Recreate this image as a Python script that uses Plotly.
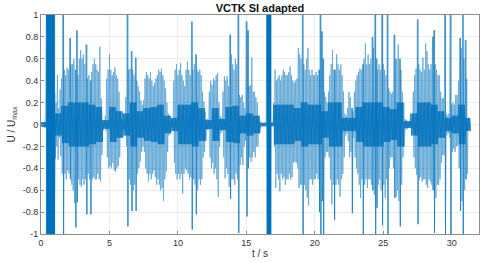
import plotly.graph_objects as go

# Envelope of the waveform.
# One value per 0.1 s bin (bin k covers k*0.1 .. k*0.1+0.1 s), 0 .. 31.4 s
BIN_S = 0.1
peak_max = [
    0.02, 0.02, 0.02, 0.03, 1, 1, 1, 1, 1, 1,                     # 0 s
    0.29, 0.2, 0.45, 0.15, 0.32, 0.42, 1, 0.5, 0.45, 0.52,        # 1 s
    0.5, 0.79, 0.55, 0.55, 0.6, 0.5, 0.86, 0.45, 0.6, 0.68,       # 2 s
    0.6, 0.64, 0.55, 0.73, 0.42, 0.45, 0.4, 0.48, 0.55, 0.6,      # 3 s
    0.55, 0.5, 0.48, 0.71, 0.24, 0.04, 0.03, 0.08, 0.42, 0.5,     # 4 s
    0.64, 0.5, 0.45, 0.48, 0.52, 0.45, 0.42, 0.3, 0.12, 0.05,     # 5 s
    0.04, 0.05, 0.25, 1.0, 0.5, 0.51, 0.67, 0.5, 0.45, 0.61,      # 6 s
    0.4, 0.35, 0.3, 0.22, 0.18, 0.22, 0.42, 0.48, 0.45, 0.42,     # 7 s
    0.48, 0.4, 0.35, 0.38, 0.42, 0.45, 0.5, 0.48, 0.51, 0.45,     # 8 s
    0.4, 0.33, 0.2, 0.1, 0.08, 0.03, 0.03, 0.4, 0.5, 0.55,        # 9 s
    0.45, 0.5, 0.56, 0.45, 0.4, 0.35, 0.5, 0.58, 0.5, 0.45,       # 10 s
    0.94, 0.5, 0.55, 0.64, 0.5, 0.48, 0.5, 0.45, 0.3, 0.21,       # 11 s
    0.12, 0.05, 0.05, 0.3, 0.4, 0.36, 0.42, 0.4, 0.45, 0.47,      # 12 s
    0.2, 0.08, 0.06, 0.3, 0.44, 0.4, 0.44, 0.35, 0.82, 0.64,      # 13 s
    0.55, 0.5, 0.6, 0.55, 1.0, 0.27, 0.25, 0.27, 0.2, 0.15,       # 14 s
    0.94, 0.86, 0.35, 0.36, 0.61, 0.3, 0.3, 0.25, 0.2, 0.08,      # 15 s
    0.03, 0.02, 0.02, 0.02, 0.02, 1, 1, 1, 0.02, 0.02,            # 16 s
    0.2, 0.5, 0.4, 0.42, 0.45, 0.4, 0.45, 0.5, 0.48, 0.45,        # 17 s
    0.45, 0.48, 0.53, 0.45, 0.4, 0.38, 0.4, 0.42, 0.7, 0.64,      # 18 s
    0.6, 1.0, 0.55, 0.5, 0.6, 0.7, 0.5, 0.45, 0.5, 0.45,          # 19 s
    0.45, 0.48, 0.45, 0.5, 1.0, 0.85, 0.6, 0.3, 0.25, 0.2,        # 20 s
    0.3, 0.45, 0.55, 0.68, 0.5, 0.5, 0.64, 0.55, 0.5, 0.55,       # 21 s
    0.45, 0.3, 0.1, 0.08, 0.15, 0.3, 0.25, 0.15, 0.12, 0.3,       # 22 s
    0.4, 0.45, 0.48, 0.51, 0.5, 0.55, 0.6, 0.74, 0.55, 0.64,      # 23 s
    0.55, 0.6, 0.8, 0.7, 1.0, 0.6, 0.5, 0.55, 0.5, 1.0,           # 24 s
    0.55, 0.5, 0.45, 1.0, 0.33, 0.3, 0.28, 0.3, 0.82, 0.6,        # 25 s
    0.6, 0.73, 0.6, 0.5, 0.3, 0.2, 0.05, 0.04, 0.03, 0.03,        # 26 s
    0.03, 0.03, 0.3, 0.45, 0.51, 0.96, 0.55, 0.5, 0.48, 0.61,     # 27 s
    0.5, 0.74, 0.67, 0.55, 0.5, 0.55, 0.8, 0.86, 0.55, 0.5,       # 28 s
    0.45, 0.45, 0.3, 0.24, 0.24, 1.0, 0.1, 0.08, 0.1, 1.0,        # 29 s
    0.18, 0.2, 0.18, 0.27, 0.27, 0.4, 0.79, 0.7, 1.0, 0.6,        # 30 s
    0.77, 0.42, 0.05, 0.03,                                       # 31 s
]
peak_min = [
    -0.02, -0.02, -0.03, -0.03, -1, -1, -1, -1, -1, -1,
    -0.31, -0.2, -0.32, -0.12, -0.29, -0.45, -1, -0.45, -0.5, -0.42,
    -0.45, -0.5, -0.55, -0.6, -0.72, -0.94, -0.71, -0.5, -0.55, -0.57,
    -0.5, -0.55, -0.5, -0.82, -0.45, -0.5, -0.82, -0.5, -0.48, -0.5,
    -0.5, -0.45, -0.5, -0.52, -0.28, -0.05, -0.03, -0.06, -0.3, -0.4,
    -0.38, -0.4, -0.35, -0.42, -0.43, -0.4, -0.38, -0.3, -0.12, -0.05,
    -0.04, -0.05, -0.2, -0.93, -0.5, -0.55, -0.79, -0.6, -0.55, -0.79,
    -0.45, -0.4, -0.34, -0.25, -0.2, -0.25, -0.4, -0.45, -0.52, -0.45,
    -0.5, -0.45, -0.42, -0.48, -0.55, -0.5, -0.55, -0.6, -0.58, -0.7,
    -0.5, -0.43, -0.25, -0.1, -0.08, -0.03, -0.03, -0.35, -0.45, -0.5,
    -0.45, -0.5, -0.45, -0.63, -0.45, -0.4, -0.42, -0.45, -0.5, -0.48,
    -0.96, -0.5, -0.55, -0.82, -0.6, -0.5, -0.55, -0.5, -0.3, -0.25,
    -0.15, -0.05, -0.05, -0.3, -0.4, -0.35, -0.45, -0.4, -0.5, -0.66,
    -0.2, -0.08, -0.06, -0.3, -0.49, -0.4, -0.45, -0.57, -0.68, -0.5,
    -0.5, -0.55, -0.45, -0.5, -0.99, -0.37, -0.3, -0.37, -0.2, -0.15,
    -0.84, -0.4, -0.3, -0.34, -0.3, -0.25, -0.3, -0.2, -0.2, -0.08,
    -0.03, -0.02, -0.02, -0.02, -0.02, -1, -1, -1, -0.02, -0.02,
    -0.2, -0.58, -0.45, -0.5, -0.61, -0.45, -0.5, -0.48, -0.55, -0.5,
    -0.5, -0.45, -0.5, -0.48, -0.35, -0.34, -0.35, -0.4, -0.58, -0.55,
    -0.55, -1.0, -0.55, -0.6, -0.67, -0.74, -0.5, -0.5, -0.55, -0.5,
    -0.5, -0.45, -0.5, -0.8, -1.0, -0.7, -1.0, -0.3, -0.25, -0.25,
    -0.3, -0.5, -0.73, -0.55, -0.87, -0.55, -0.5, -0.55, -0.66, -0.5,
    -0.45, -0.3, -0.1, -0.08, -0.15, -0.3, -0.25, -0.81, -0.12, -0.3,
    -0.4, -0.45, -0.55, -0.67, -0.5, -1.0, -0.55, -0.5, -0.58, -0.5,
    -0.5, -0.55, -0.6, -0.64, -1.0, -0.76, -0.55, -0.5, -0.6, -0.92,
    -0.55, -0.67, -0.5, -1.0, -0.4, -0.3, -0.3, -0.4, -0.67, -0.66,
    -0.6, -0.7, -0.93, -0.55, -0.3, -0.2, -0.05, -0.04, -0.03, -0.03,
    -0.03, -0.03, -0.3, -0.4, -0.46, -0.91, -0.5, -0.48, -0.52, -0.5,
    -0.5, -0.55, -0.58, -0.5, -0.52, -0.55, -0.6, -0.99, -0.67, -0.55,
    -0.55, -0.5, -0.35, -0.28, -0.28, -1.0, -0.1, -0.08, -0.12, -1.0,
    -0.25, -0.22, -0.25, -0.2, -0.19, -0.4, -0.79, -0.7, -1.0, -0.6,
    -0.5, -0.45, -0.05, -0.03,
]
# Amplitude of the dense (dark) core, one value per 0.5 s
CORE_BIN_S = 0.5
core_amp = [
    0.02, 1.0, 0.1, 0.17, 0.2, 0.2, 0.2, 0.18, 0.16, 0.04,
    0.16, 0.12, 0.1, 0.2, 0.12, 0.15, 0.16, 0.18, 0.08, 0.06,
    0.18, 0.18, 0.2, 0.15, 0.04, 0.15, 0.05, 0.16, 0.17, 0.08,
    0.1, 0.08, 0.01, 0.01, 0.18, 0.18, 0.18, 0.15, 0.2, 0.18,
    0.18, 0.12, 0.2, 0.2, 0.06, 0.06, 0.16, 0.2, 0.2, 0.2,
    0.16, 0.14, 0.2, 0.03, 0.1, 0.2, 0.2, 0.18, 0.12, 0.06,
    0.08, 0.18, 0.06,
]
# Stretches where the signal is clipped at full scale (start s, end s)
clip_start = [0.39, 16.5]
clip_end = [1.0, 16.81]
FULL_SCALE = 1.0
SPIKE_LEVEL = 0.75   # peaks above this are drawn as solid spikes

x_ticks = [0, 5, 10, 15, 20, 25, 30]
y_ticks = [-1, -0.8, -0.6, -0.4, -0.2, 0, 0.2, 0.4, 0.6, 0.8, 1]
y_tick_text = ["-1", "-0.8", "-0.6", "-0.4", "-0.2", "0", "0.2", "0.4", "0.6", "0.8", "1"]

per_core = int(round(CORE_BIN_S / BIN_S))
env_x, env_y, core_x, core_y, spk_x, spk_y = [], [], [], [], [], []
for i, (hi, lo) in enumerate(zip(peak_max, peak_min)):
    t0 = i * BIN_S
    c = core_amp[min(i // per_core, len(core_amp) - 1)]
    env_x += [t0, t0 + BIN_S * 0.5]
    env_y += [hi, lo]
    core_x += [t0 + BIN_S * 0.25, t0 + BIN_S * 0.75]
    core_y += [c, -c]
    if hi >= SPIKE_LEVEL or lo <= -SPIKE_LEVEL:
        spk_x += [t0 + BIN_S * 0.5, t0 + BIN_S * 0.5, None]
        spk_y += [lo, hi, None]

BLUE = "#0072BD"
FONT = "Liberation Sans, Arial, sans-serif"
fig = go.Figure()
fig.add_trace(go.Scatter(x=env_x, y=env_y, mode="lines", opacity=0.6,
                         line=dict(color=BLUE, width=0.9, simplify=False),
                         hoverinfo="skip", showlegend=False))
fig.add_trace(go.Scatter(x=core_x, y=core_y, mode="lines", opacity=0.9,
                         line=dict(color=BLUE, width=1.0, simplify=False),
                         hoverinfo="skip", showlegend=False))
fig.add_trace(go.Scatter(x=spk_x, y=spk_y, mode="lines", opacity=0.9,
                         line=dict(color=BLUE, width=0.8, simplify=False),
                         hoverinfo="skip", showlegend=False))
for s, e in zip(clip_start, clip_end):
    fig.add_trace(go.Scatter(x=[s, e, e, s, s],
                             y=[-FULL_SCALE, -FULL_SCALE, FULL_SCALE, FULL_SCALE, -FULL_SCALE],
                             mode="lines", fill="toself", fillcolor=BLUE,
                             line=dict(color=BLUE, width=0.5),
                             hoverinfo="skip", showlegend=False))

axis_col = "#8c8c8c"
grid_col = "#ececec"
tick_font = dict(family=FONT, size=9, color="#333333")
fig.update_layout(
    width=485, height=263,
    margin=dict(l=41, r=6, t=15, b=29),
    paper_bgcolor="white", plot_bgcolor="white",
    title=dict(text="<b>VCTK SI adapted</b>", x=0.536, xanchor="center",
               y=0.985, yanchor="top",
               font=dict(family=FONT, size=11, color="#111111")),
    showlegend=False,
)
fig.update_xaxes(range=[0, 32], tickvals=x_ticks, ticktext=[str(v) for v in x_ticks],
                 showgrid=True, gridcolor=grid_col, gridwidth=1,
                 showline=True, linecolor=axis_col, linewidth=1, mirror=True,
                 ticks="inside", ticklen=3, tickcolor=axis_col,
                 zeroline=False, tickfont=tick_font, automargin=False,
                 title=dict(text="t / s", standoff=3,
                            font=dict(family=FONT, size=10, color="#333333")))
fig.update_yaxes(range=[-1, 1], tickvals=y_ticks, ticktext=y_tick_text,
                 showgrid=True, gridcolor=grid_col, gridwidth=1,
                 showline=True, linecolor=axis_col, linewidth=1, mirror=True,
                 ticks="inside", ticklen=3, tickcolor=axis_col,
                 zeroline=False, tickfont=tick_font, automargin=False,
                 title=dict(text="U / U<sub>max</sub>", standoff=5,
                            font=dict(family=FONT, size=10, color="#333333")))

fig.write_html("out.html", config={"displayModeBar": False},
               post_script="document.body.style.margin='0px';")
